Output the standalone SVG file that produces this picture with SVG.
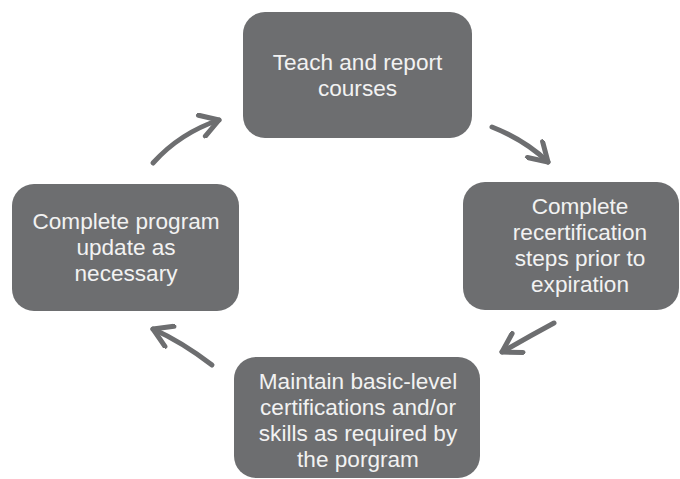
<svg xmlns="http://www.w3.org/2000/svg" width="680" height="479" viewBox="0 0 680 479">
<defs>
<style>
.box{fill:#6d6e70;}
.lbl{font-family:"Liberation Sans",Arial,sans-serif;font-size:22.6px;fill:#f2f2f2;text-anchor:middle;}
.conn{fill:none;stroke:#6d6e70;stroke-width:5;stroke-linecap:round;}
</style>
<marker id="ah" viewBox="0 0 26 26" refX="22" refY="13" markerWidth="26" markerHeight="26" markerUnits="userSpaceOnUse" orient="auto">
<path d="M4,2 L22,13 L4,24" fill="none" stroke="#6d6e70" stroke-width="5" stroke-linecap="round" stroke-linejoin="round"/>
</marker>
</defs>
<rect width="680" height="479" fill="#ffffff"/>
<g id="connectors">
<path class="conn" d="M492,127 Q525,140 548,162" marker-end="url(#ah)"/>
<path class="conn" d="M554,323 Q528,337 502,352" marker-end="url(#ah)"/>
<path class="conn" d="M212,365 Q182,342 153,329" marker-end="url(#ah)"/>
<path class="conn" d="M153,163 Q180,133 219,120" marker-end="url(#ah)"/>
</g>
<g id="node-teach">
<rect class="box" x="243" y="12" width="229" height="126" rx="22"/>
<text class="lbl" x="357.5" y="70">Teach and report</text>
<text class="lbl" x="357.5" y="96">courses</text>
</g>
<g id="node-recert">
<rect class="box" x="463" y="182" width="216" height="128" rx="22"/>
<text class="lbl" x="580" y="214">Complete</text>
<text class="lbl" x="580" y="240">recertification</text>
<text class="lbl" x="580" y="266">steps prior to</text>
<text class="lbl" x="580" y="292">expiration</text>
</g>
<g id="node-maintain">
<rect class="box" x="234" y="357" width="246" height="121" rx="22"/>
<text class="lbl" x="358" y="389">Maintain basic-level</text>
<text class="lbl" x="358" y="415">certifications and/or</text>
<text class="lbl" x="358" y="441">skills as required by</text>
<text class="lbl" x="358" y="467">the porgram</text>
</g>
<g id="node-update">
<rect class="box" x="12" y="184" width="227" height="127" rx="22"/>
<text class="lbl" x="126" y="229">Complete program</text>
<text class="lbl" x="126" y="255">update as</text>
<text class="lbl" x="126" y="281">necessary</text>
</g>
</svg>
